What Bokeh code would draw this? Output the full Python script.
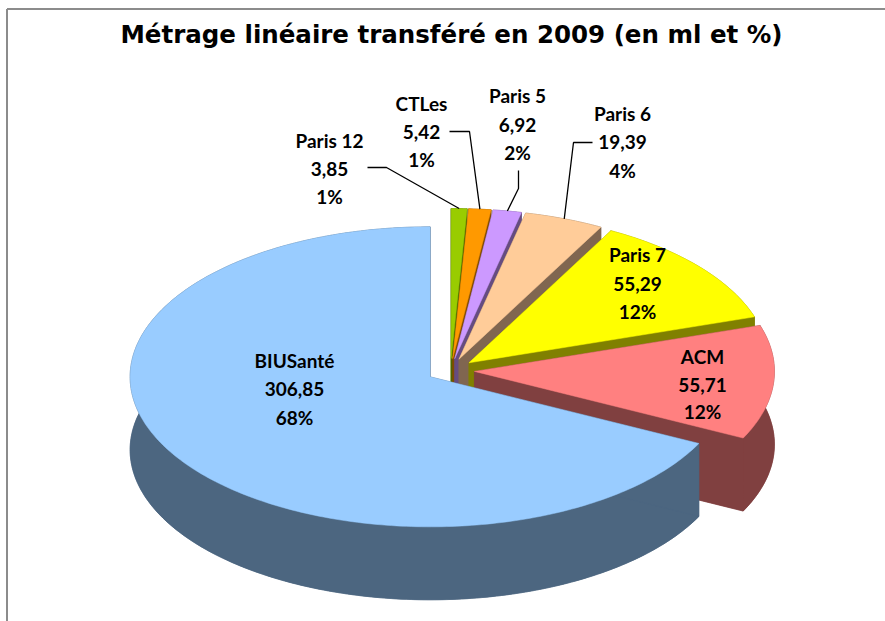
import numpy as np
from bokeh.plotting import figure
from bokeh.models import Range1d
from bokeh.core.properties import value
from bokeh.embed import file_html
from bokeh.resources import INLINE

TITLE = "Métrage linéaire transféré en 2009 (en ml et %)"

# clockwise from 12 o'clock
categories = ["Paris 12", "CTLes", "Paris 5", "Paris 6", "Paris 7", "ACM", "BIUSanté"]
values_ml = [3.85, 5.42, 6.92, 19.39, 55.29, 55.71, 306.85]
value_labels = ["3,85", "5,42", "6,92", "19,39", "55,29", "55,71", "306,85"]
pct_labels = ["1%", "1%", "2%", "4%", "12%", "12%", "68%"]
top_colors = ["#99CC00", "#FF9900", "#CC99FF", "#FFCC99", "#FFFF00", "#FF8080", "#99CCFF"]
side_colors = ["#4C6600", "#804C00", "#664C80", "#806650", "#808000", "#804040", "#4C6680"]

# layout, in page pixels
CX, CY, RX, RY, DEPTH = 450.0, 370.0, 300.0, 150.0, 73.0
EXPLODE = 0.08
label_x = [329, 421, 517, 622, 637, 702, 294]
label_y = [[140, 168, 196], [103, 131, 159], [95, 124, 152], [113, 141, 170],
           [254, 283, 311], [356, 384, 411], [360, 388, 417]]
# leader lines: label end, elbow (the third point is the slice's arc middle)
leaders = {0: [(367, 167), (386, 167)], 1: [(449, 131), (469, 131)],
           2: [(518, 170), (518, 188)], 3: [(592, 142), (573, 142)]}

p = figure(width=885, height=621, x_range=Range1d(0, 885), y_range=Range1d(621, 0),
           toolbar_location=None, output_backend="svg", min_border=0,
           background_fill_color="white", border_fill_color="white")
p.axis.visible = False
p.grid.visible = False
p.outline_line_color = None

# chart frame
p.line([6.5, 6.5], [621, 8.5], line_color="#8C8C8C", line_width=2)
p.line([6.5, 885], [8.5, 8.5], line_color="#8C8C8C", line_width=2)

vals = np.array(values_ml)
edges = np.concatenate([[0], np.cumsum(vals)]) / vals.sum() * 2 * np.pi
arc_mid = []

for i in range(len(vals)):
    a0, a1 = edges[i], edges[i + 1]
    mid = (a0 + a1) / 2
    ax = CX + EXPLODE * RX * np.sin(mid)
    ay = CY - EXPLODE * RY * np.cos(mid)
    arc_mid.append((ax + RX * np.sin(mid), ay - RY * np.cos(mid)))
    t = np.linspace(a0, a1, max(6, int((a1 - a0) * 60)))
    ox = ax + RX * np.sin(t)
    oy = ay - RY * np.cos(t)
    top_x = np.concatenate([[ax], ox])
    top_y = np.concatenate([[ay], oy])
    sc, tc = side_colors[i], top_colors[i]
    # bottom disc, outer wall, both radial walls, then the top
    walls_x = [top_x, np.concatenate([ox, ox[::-1]]),
               [ax, ox[0], ox[0], ax], [ax, ox[-1], ox[-1], ax]]
    walls_y = [top_y + DEPTH, np.concatenate([oy, oy[::-1] + DEPTH]),
               [ay, oy[0], oy[0] + DEPTH, ay + DEPTH], [ay, oy[-1], oy[-1] + DEPTH, ay + DEPTH]]
    p.patches([list(w) for w in walls_x], [list(w) for w in walls_y],
              fill_color=sc, line_color=sc, line_width=0.5)
    p.patch(top_x, top_y, fill_color=tc, line_color=tc, line_width=0.5)

# leader lines
for i, pts in leaders.items():
    xs = [q[0] for q in pts] + [arc_mid[i][0]]
    ys = [q[1] for q in pts] + [arc_mid[i][1]]
    p.line(xs, ys, line_color="black", line_width=1.3)

# labels
for i, cat in enumerate(categories):
    p.text([label_x[i]] * 3, label_y[i], text=[cat, value_labels[i], pct_labels[i]],
           text_font=value("Lato"), text_font_style="bold", text_font_size="19px",
           text_color="black", text_align="center", text_baseline="middle")

p.text([451], [34], text=[TITLE], text_font=value("DejaVu Sans"), text_font_style="bold",
       text_font_size="24.5px", text_color="black", text_align="center", text_baseline="middle")

open("out.html", "w").write(file_html(p, INLINE))
